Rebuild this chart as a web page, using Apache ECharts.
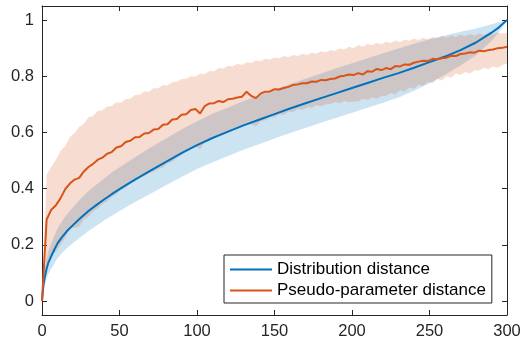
<!DOCTYPE html>
<html>
<head>
<meta charset="utf-8">
<script src="https://cdn.jsdelivr.net/npm/echarts@6/dist/echarts.min.js"></script>
<style>
html,body{margin:0;padding:0;background:#fff;}
#chart{width:527px;height:343px;}
</style>
</head>
<body>
<div id="chart"></div>
<script>
// ---- data ----
const xTicks = [0, 50, 100, 150, 200, 250, 300];
const yTicks = [0, 0.2, 0.4, 0.6, 0.8, 1];
const seriesNames = ['Distribution distance', 'Pseudo-parameter distance'];

const blueX = [0,1,2,3,4,6,8,10,13,16,20,25,30,35,40,45,50,60,70,80,90,100,110,120,130,140,150,160,170,180,190,200,210,220,230,240,250,260,270,280,290,295,300];
const blueMean = [0,0.06,0.09,0.115,0.135,0.16,0.183,0.205,0.228,0.248,0.27,0.296,0.32,0.341,0.361,0.38,0.398,0.432,0.464,0.495,0.526,0.555,0.58,0.603,0.625,0.645,0.665,0.685,0.704,0.722,0.74,0.758,0.776,0.794,0.811,0.83,0.85,0.87,0.893,0.92,0.955,0.975,1.0];
const blueUpper = [0,0.08,0.12,0.15,0.175,0.205,0.233,0.258,0.285,0.308,0.334,0.364,0.391,0.414,0.436,0.457,0.476,0.512,0.546,0.578,0.61,0.64,0.666,0.689,0.712,0.732,0.752,0.772,0.791,0.81,0.828,0.846,0.864,0.882,0.899,0.916,0.932,0.945,0.958,0.97,0.985,0.992,1.0];
const blueLower = [0,0.04,0.06,0.08,0.095,0.115,0.133,0.152,0.171,0.188,0.206,0.228,0.249,0.268,0.286,0.303,0.32,0.352,0.382,0.412,0.441,0.47,0.494,0.516,0.538,0.558,0.578,0.598,0.616,0.634,0.652,0.67,0.688,0.706,0.724,0.748,0.775,0.805,0.838,0.875,0.925,0.958,1.0];

const orangeX = [0,3,6,9,12,15,18,21,24,27,30,33,36,39,42,45,48,51,54,57,60,63,66,69,72,75,78,81,84,87,90,93,96,99,102,105,108,111,114,117,120,123,126,129,132,135,138,141,144,147,150,153,156,159,162,165,168,171,174,177,180,183,186,189,192,195,198,201,204,207,210,213,216,219,222,225,228,231,234,237,240,243,246,249,252,255,258,261,264,267,270,273,276,279,282,285,288,291,294,297,300];
const orangeMean = [0,0.29,0.325,0.341,0.366,0.398,0.418,0.432,0.438,0.461,0.477,0.488,0.503,0.51,0.524,0.53,0.546,0.551,0.566,0.57,0.583,0.584,0.596,0.598,0.61,0.612,0.627,0.629,0.646,0.648,0.663,0.665,0.68,0.683,0.667,0.694,0.703,0.704,0.712,0.708,0.718,0.72,0.724,0.727,0.745,0.73,0.722,0.738,0.745,0.746,0.754,0.753,0.758,0.762,0.769,0.771,0.775,0.775,0.781,0.78,0.787,0.786,0.79,0.792,0.799,0.802,0.806,0.804,0.811,0.806,0.818,0.816,0.826,0.822,0.829,0.825,0.836,0.835,0.842,0.841,0.848,0.852,0.855,0.854,0.862,0.86,0.864,0.866,0.873,0.872,0.879,0.881,0.885,0.884,0.891,0.889,0.893,0.895,0.9,0.901,0.905];
const orangeUpper = [0,0.45,0.478,0.503,0.535,0.552,0.584,0.598,0.62,0.631,0.654,0.658,0.676,0.679,0.692,0.694,0.707,0.706,0.719,0.72,0.733,0.734,0.746,0.745,0.757,0.757,0.769,0.767,0.779,0.78,0.79,0.79,0.8,0.799,0.809,0.808,0.819,0.818,0.829,0.827,0.837,0.835,0.844,0.84,0.85,0.847,0.856,0.853,0.862,0.859,0.867,0.864,0.872,0.868,0.876,0.872,0.88,0.876,0.884,0.88,0.889,0.885,0.893,0.89,0.899,0.895,0.905,0.9,0.911,0.906,0.915,0.91,0.919,0.914,0.923,0.918,0.927,0.922,0.931,0.926,0.934,0.929,0.937,0.932,0.94,0.935,0.943,0.938,0.946,0.94,0.948,0.943,0.95,0.945,0.952,0.947,0.954,0.949,0.956,0.951,0.955];
const orangeLower = [0,0.13,0.165,0.175,0.2,0.225,0.26,0.26,0.265,0.29,0.3,0.32,0.33,0.345,0.355,0.37,0.38,0.395,0.405,0.42,0.425,0.44,0.445,0.455,0.46,0.47,0.475,0.49,0.495,0.51,0.52,0.535,0.54,0.55,0.54,0.565,0.57,0.583,0.59,0.6,0.598,0.61,0.612,0.622,0.635,0.628,0.622,0.64,0.642,0.655,0.652,0.665,0.662,0.675,0.672,0.684,0.68,0.69,0.688,0.697,0.693,0.7,0.7,0.708,0.703,0.712,0.707,0.71,0.71,0.72,0.715,0.725,0.72,0.73,0.73,0.74,0.735,0.75,0.745,0.76,0.755,0.77,0.765,0.78,0.775,0.79,0.785,0.8,0.795,0.81,0.805,0.815,0.81,0.82,0.82,0.83,0.825,0.835,0.83,0.84,0.845];

// ---- build ----
const BLUE = '#0072BD', ORANGE = '#D95319', AX = '#262626';
const pairs = (xs, ys) => xs.map((x, i) => [x, ys[i]]);

function bandSeries(xs, lo, hi, fill) {
  return {
    type: 'custom', coordinateSystem: 'cartesian2d', silent: true,
    data: [[xs[0], lo[0]]],
    renderItem: function (params, api) {
      const pts = [];
      for (let i = 0; i < xs.length; i++) pts.push(api.coord([xs[i], hi[i]]));
      for (let i = xs.length - 1; i >= 0; i--) pts.push(api.coord([xs[i], lo[i]]));
      return { type: 'polygon', shape: { points: pts }, style: { fill: fill, stroke: null } };
    }
  };
}

const font = 'Liberation Sans, Arial, Helvetica, sans-serif';
const axisCommon = {
  axisLine: { show: true, onZero: false, lineStyle: { color: AX, width: 1 } },
  axisTick: { show: true, inside: true, length: 5, lineStyle: { color: AX, width: 1 } },
  splitLine: { show: false }
};

const chart = echarts.init(document.getElementById('chart'), null, { renderer: 'canvas' });
chart.setOption({
  animation: false,
  backgroundColor: '#fff',
  grid: { left: 42, right: 20, top: 6, bottom: 28 },
  xAxis: [
    Object.assign({ type: 'value', min: xTicks[0], max: xTicks[xTicks.length - 1], interval: 50, position: 'bottom',
      axisLabel: { fontFamily: font, fontSize: 16.5, color: AX, margin: 8 } }, axisCommon),
    Object.assign({ type: 'value', min: xTicks[0], max: xTicks[xTicks.length - 1], interval: 50, position: 'top',
      axisLabel: { show: false } }, axisCommon)
  ],
  yAxis: [
    Object.assign({}, axisCommon, { type: 'value', min: -0.05, max: 1.05, position: 'left',
      axisTick: Object.assign({}, axisCommon.axisTick, { customValues: yTicks }),
      axisLabel: { customValues: yTicks, fontFamily: font, fontSize: 16.5, color: AX, margin: 8 } }),
    Object.assign({}, axisCommon, { type: 'value', min: -0.05, max: 1.05, position: 'right',
      axisTick: Object.assign({}, axisCommon.axisTick, { customValues: yTicks }),
      axisLabel: { show: false } })
  ],
  legend: {
    data: seriesNames,
    orient: 'vertical',
    left: 224, top: 255,
    padding: [6, 6, 4, 6],
    itemGap: 4,
    itemWidth: 42, itemHeight: 2,
    icon: 'rect',
    backgroundColor: '#fff',
    borderColor: AX, borderWidth: 1, borderRadius: 0,
    textStyle: { fontFamily: font, fontSize: 17, color: '#000', lineHeight: 16 }
  },
  series: [
    bandSeries(blueX, blueLower, blueUpper, 'rgba(0,114,189,0.2)'),
    { name: seriesNames[0], type: 'line', data: pairs(blueX, blueMean), symbol: 'none',
      lineStyle: { color: BLUE, width: 2 }, itemStyle: { color: BLUE } },
    bandSeries(orangeX, orangeLower, orangeUpper, 'rgba(217,83,25,0.2)'),
    { name: seriesNames[1], type: 'line', data: pairs(orangeX, orangeMean), symbol: 'none',
      lineStyle: { color: ORANGE, width: 2 }, itemStyle: { color: ORANGE } }
  ]
});
</script>
</body>
</html>
